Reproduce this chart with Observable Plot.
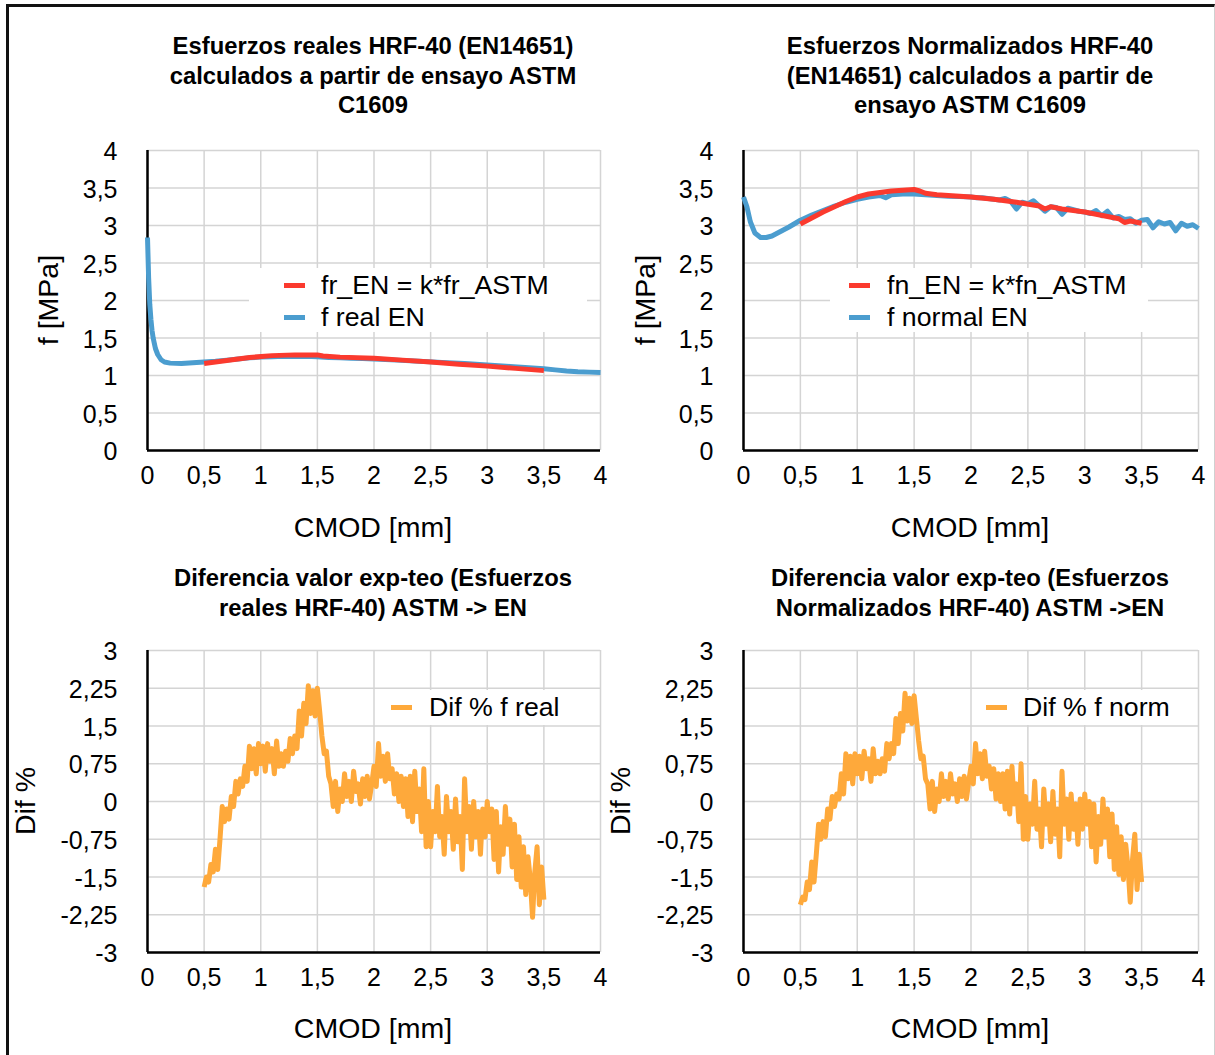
<!DOCTYPE html>
<html><head><meta charset="utf-8">
<script src="https://cdn.jsdelivr.net/npm/d3@7"></script>
<script src="https://cdn.jsdelivr.net/npm/@observablehq/plot@0.6"></script>
<style>
body{margin:0;background:#fff;font-family:"Liberation Sans",Arial,sans-serif;color:#000;}
#root{position:relative;width:1215px;height:1055px;overflow:hidden;background:#fff;}
.frame{position:absolute;left:6px;top:4px;width:1205px;height:1100px;border-left:3px solid #111;border-top:3px solid #111;border-right:1px solid #d0d0d0;}
.title{position:absolute;font-weight:bold;font-size:23.8px;line-height:29.5px;text-align:center;white-space:nowrap;transform:translateX(-50%);}
.axt{position:absolute;font-size:28.5px;white-space:nowrap;transform:translate(-50%,-50%);}
.axty{position:absolute;font-size:28.5px;white-space:nowrap;transform:translate(-50%,-50%) rotate(-90deg);}
.lbox{position:absolute;background:#fff;z-index:5;}
.sw{position:absolute;height:5px;width:21px;z-index:6;}
.lt{position:absolute;font-size:26.7px;white-space:nowrap;z-index:6;transform:translateY(-50%);line-height:30px;}
svg{z-index:1;}
</style></head>
<body><div id="root"><div class="frame"></div></div>
<script>
// ---------- data ----------
const xTicks = [0, 0.5, 1, 1.5, 2, 2.5, 3, 3.5, 4];
const fTicks = [0, 0.5, 1, 1.5, 2, 2.5, 3, 3.5, 4];
const difTicks = [-3, -2.25, -1.5, -0.75, 0, 0.75, 1.5, 2.25, 3];

const titles = [
  "Esfuerzos reales HRF-40 (EN14651)<br>calculados a partir de ensayo ASTM<br>C1609",
  "Esfuerzos Normalizados HRF-40<br>(EN14651) calculados a partir de<br>ensayo ASTM C1609",
  "Diferencia valor exp-teo (Esfuerzos<br>reales HRF-40) ASTM -> EN",
  "Diferencia valor exp-teo (Esfuerzos<br>Normalizados HRF-40) ASTM ->EN"
];
const xLabel = "CMOD [mm]";
const fLabel = "f [MPa]";
const difLabel = "Dif %";

const colRed = "#fb3a2e", colBlue = "#4b9dcf", colOrange = "#fea93b";

// panel 1 : f real EN (blue) and fr_EN = k*fr_ASTM (red)
const realBlueX = [0, 0.01, 0.02, 0.03, 0.04, 0.05, 0.07, 0.09, 0.12, 0.15, 0.2, 0.3, 0.4, 0.5, 0.6, 0.7, 0.8, 0.9, 1.0, 1.1, 1.2, 1.3, 1.4, 1.5, 1.6, 1.7, 1.8, 1.9, 2.0, 2.2, 2.4, 2.6, 2.8, 3.0, 3.2, 3.4, 3.5, 3.6, 3.7, 3.8, 3.9, 4.0];
const realBlueY = [2.84, 2.3, 1.95, 1.75, 1.6, 1.5, 1.36, 1.28, 1.21, 1.18, 1.165, 1.16, 1.17, 1.18, 1.19, 1.205, 1.22, 1.235, 1.245, 1.25, 1.255, 1.255, 1.255, 1.25, 1.24, 1.235, 1.23, 1.225, 1.22, 1.205, 1.19, 1.175, 1.16, 1.14, 1.12, 1.1, 1.09, 1.075, 1.06, 1.05, 1.045, 1.04];
const realRedX = [0.5, 0.7, 0.9, 1.1, 1.3, 1.5, 1.55, 1.7, 2.0, 2.25, 2.5, 2.75, 3.0, 3.25, 3.5];
const realRedY = [1.16, 1.2, 1.24, 1.265, 1.275, 1.275, 1.26, 1.245, 1.23, 1.205, 1.18, 1.15, 1.125, 1.095, 1.065];

// panel 2 : f normal EN (blue) and fn_EN = k*fn_ASTM (red)
const normBlueX = [0, 0.03, 0.06, 0.1, 0.15, 0.2, 0.25, 0.3, 0.4, 0.5, 0.6, 0.7, 0.8, 0.9, 1.0, 1.1, 1.2, 1.25, 1.3, 1.4, 1.5, 1.6, 1.7, 1.8, 1.9, 2.0, 2.05, 2.1, 2.15, 2.2, 2.25, 2.3, 2.35, 2.4, 2.45, 2.5, 2.55, 2.6, 2.65, 2.7, 2.75, 2.8, 2.85, 2.9, 2.95, 3.0, 3.05, 3.1, 3.15, 3.2, 3.25, 3.3, 3.35, 3.4, 3.45, 3.5, 3.55, 3.6, 3.65, 3.7, 3.75, 3.8, 3.85, 3.9, 3.95, 4.0];
const normBlueY = [3.38, 3.25, 3.05, 2.9, 2.84, 2.84, 2.86, 2.9, 2.98, 3.07, 3.14, 3.2, 3.26, 3.31, 3.35, 3.38, 3.4, 3.37, 3.41, 3.42, 3.42, 3.41, 3.4, 3.39, 3.385, 3.38, 3.37, 3.37, 3.36, 3.35, 3.34, 3.36, 3.32, 3.22, 3.31, 3.29, 3.33, 3.26, 3.19, 3.25, 3.24, 3.15, 3.23, 3.21, 3.19, 3.18, 3.16, 3.2, 3.13, 3.19, 3.1, 3.12, 3.08, 3.09, 3.03, 3.07, 3.08, 2.97, 3.05, 3.02, 3.04, 2.93, 3.03, 2.99, 3.01, 2.96];
const normRedX = [0.5, 0.6, 0.7, 0.8, 0.9, 1.0, 1.1, 1.2, 1.3, 1.4, 1.5, 1.55, 1.6, 1.7, 1.8, 2.0, 2.2, 2.4, 2.6, 2.65, 2.7, 2.8, 3.0, 3.2, 3.3, 3.35, 3.4, 3.5];
const normRedY = [3.02, 3.1, 3.18, 3.25, 3.32, 3.38, 3.42, 3.44, 3.46, 3.47, 3.48, 3.46, 3.43, 3.41, 3.4, 3.38, 3.35, 3.31, 3.26, 3.22, 3.25, 3.22, 3.18, 3.12, 3.09, 3.04, 3.06, 3.03];

// panels 3 & 4 : differences
const difCmod = [0.5, 0.52, 0.54, 0.56, 0.58, 0.6, 0.62, 0.64, 0.66, 0.68,
  0.7, 0.72, 0.74, 0.76, 0.78, 0.8, 0.82, 0.84, 0.86, 0.88,
  0.9, 0.92, 0.94, 0.96, 0.98, 1.0, 1.02, 1.04, 1.06, 1.08,
  1.1, 1.12, 1.14, 1.16, 1.18, 1.2, 1.22, 1.24, 1.26, 1.28,
  1.3, 1.32, 1.34, 1.36, 1.38, 1.4, 1.42, 1.44, 1.46, 1.48,
  1.5, 1.52, 1.54, 1.56, 1.58, 1.6, 1.62, 1.64, 1.66, 1.68,
  1.7, 1.72, 1.74, 1.76, 1.78, 1.8, 1.82, 1.84, 1.86, 1.88,
  1.9, 1.92, 1.94, 1.96, 1.98, 2.0, 2.02, 2.04, 2.06, 2.08,
  2.1, 2.12, 2.14, 2.16, 2.18, 2.2, 2.22, 2.24, 2.26, 2.28,
  2.3, 2.32, 2.34, 2.36, 2.38, 2.4, 2.42, 2.44, 2.46, 2.48,
  2.5, 2.52, 2.54, 2.56, 2.58, 2.6, 2.62, 2.64, 2.66, 2.68,
  2.7, 2.72, 2.74, 2.76, 2.78, 2.8, 2.82, 2.84, 2.86, 2.88,
  2.9, 2.92, 2.94, 2.96, 2.98, 3.0, 3.02, 3.04, 3.06, 3.08,
  3.1, 3.12, 3.14, 3.16, 3.18, 3.2, 3.22, 3.24, 3.26, 3.28,
  3.3, 3.32, 3.34, 3.36, 3.38, 3.4, 3.42, 3.44, 3.46, 3.48, 3.5];
const difReal = [-1.7, -1.5, -1.6, -1.25, -1.4, -0.95, -1.35, -0.75, -0.1, -0.4,
  -0.15, -0.35, 0.1, -0.1, 0.4, 0.15, 0.45, 0.3, 0.7, 0.4,
  1.1, 0.65, 1.05, 0.55, 1.15, 0.75, 1.1, 0.6, 1.15, 0.8,
  1.05, 0.55, 1.2, 0.7, 0.95, 0.7, 1.0, 0.8, 1.25, 0.95,
  1.3, 1.05, 1.8, 1.3, 1.95, 1.55, 2.3, 1.75, 2.2, 1.7,
  2.25, 1.8, 1.3, 0.95, 1.0, 0.5, 0.35, -0.1, 0.4, -0.2,
  0.25, 0.0, 0.55, 0.1, 0.4, 0.0, 0.6, 0.2, 0.35, -0.05,
  0.45, 0.1, 0.5, 0.05, 0.35, 0.7, 0.3, 1.15, 0.5, 0.9,
  0.4, 0.95, 0.45, 0.65, 0.15, 0.55, 0.0, 0.5, -0.1, 0.45,
  -0.3, 0.5, -0.4, 0.6, -0.2, 0.25, -0.6, 0.65, -0.9, 0.0,
  -0.9, -0.2, -0.6, 0.3, -0.7, -0.3, -1.05, 0.1, -0.6, -0.2,
  -0.95, 0.05, -0.8, -0.3, -1.35, 0.45, -0.6, -0.1, -0.95, 0.0,
  -0.7, -0.2, -1.05, -0.15, -0.7, 0.0, -0.6, -0.15, -1.15, -0.2,
  -1.4, -0.5, -1.05, -0.1, -0.85, -0.35, -1.3, -0.45, -1.55, -0.7,
  -1.7, -0.9, -1.85, -1.1, -1.55, -2.3, -1.4, -0.9, -2.05, -1.3, -1.95];
const difNorm = [-2.05, -1.9, -1.95, -1.6, -1.75, -1.2, -1.6, -1.05, -0.45, -0.75,
  -0.4, -0.7, -0.15, -0.35, 0.1, -0.1, 0.15, 0.05, 0.55, 0.15,
  0.95, 0.45, 0.9, 0.35, 0.95, 0.55, 0.9, 0.45, 1.0, 0.65,
  0.85, 0.4, 1.05, 0.55, 0.8, 0.55, 0.85, 0.6, 1.15, 0.85,
  1.15, 0.95, 1.65, 1.15, 1.75, 1.4, 2.15, 1.6, 2.05, 1.55,
  2.1, 1.65, 1.2, 0.85, 0.9, 0.45, 0.35, -0.15, 0.4, -0.2,
  0.25, 0.0, 0.55, 0.1, 0.4, 0.05, 0.55, 0.15, 0.35, 0.0,
  0.45, 0.1, 0.5, 0.05, 0.4, 0.7, 0.35, 1.15, 0.55, 0.95,
  0.45, 1.0, 0.5, 0.7, 0.25, 0.65, 0.05, 0.55, 0.0, 0.55,
  -0.15, 0.6, -0.25, 0.7, -0.05, 0.35, -0.4, 0.75, -0.75, 0.1,
  -0.75, -0.05, -0.45, 0.4, -0.55, -0.15, -0.9, 0.25, -0.45, -0.05,
  -0.8, 0.2, -0.65, -0.15, -1.1, 0.6, -0.45, 0.05, -0.75, 0.15,
  -0.55, -0.05, -0.85, 0.05, -0.55, 0.15, -0.45, 0.0, -0.9, -0.05,
  -1.2, -0.3, -0.85, 0.05, -0.7, -0.15, -1.1, -0.25, -1.35, -0.5,
  -1.45, -0.7, -1.55, -0.85, -1.3, -2.0, -1.15, -0.65, -1.75, -1.05, -1.6];

const legends = [
  ["fr_EN = k*fr_ASTM", "f real EN"],
  ["fn_EN = k*fn_ASTM", "f normal EN"],
  ["Dif % f real"],
  ["Dif % f norm"]
];

// ---------- helpers ----------
const root = document.getElementById("root");
const pts = (xs, ys) => xs.map((x, i) => ({x, y: ys[i]}));
const fmt = d => String(d).replace(".", ",");
const FONT = '"Liberation Sans", Arial, sans-serif';

function add(el) { root.appendChild(el); return el; }
function div(cls, css, html) {
  const d = document.createElement("div");
  d.className = cls;
  Object.assign(d.style, css);
  if (html != null) d.innerHTML = html;
  return add(d);
}

function panel({left, top, width, height, ml, mr, mt, mb, yDomain, yTicks, series}) {
  const lineMarks = series.map(s => Plot.line(pts(s.x, s.y), {x: "x", y: "y", stroke: s.color, strokeWidth: s.w || 5, strokeLinejoin: "round", strokeLinecap: "butt"}));
  const p = Plot.plot({
    width, height, marginLeft: ml, marginRight: mr, marginTop: mt, marginBottom: mb,
    x: {domain: [0, 4]},
    y: {domain: yDomain},
    style: {fontFamily: FONT, fontSize: "25px", color: "#000", background: "transparent", overflow: "visible"},
    marks: [
      Plot.gridX(xTicks, {stroke: "#d4d4d4", strokeOpacity: 1, strokeWidth: 1.5}),
      Plot.gridY(yTicks, {stroke: "#d4d4d4", strokeOpacity: 1, strokeWidth: 1.5}),
      Plot.axisX(xTicks, {tickSize: 0, tickPadding: 16, tickFormat: fmt, label: null, fontSize: 25}),
      Plot.axisY(yTicks, {tickSize: 0, tickPadding: 30, tickFormat: fmt, label: null, fontSize: 25, dy: 1.5}),
      Plot.ruleX([0], {stroke: "#000", strokeWidth: 2.5}),
      Plot.ruleY([yDomain[0]], {stroke: "#000", strokeWidth: 2.5}),
      ...lineMarks
    ]
  });
  Object.assign(p.style, {position: "absolute", left: left + "px", top: top + "px"});
  add(p);
}

function legend(box, swX, txtX, rows, items, colors) {
  div("lbox", {left: box[0] + "px", top: box[1] + "px", width: (box[2] - box[0]) + "px", height: (box[3] - box[1]) + "px"});
  items.forEach((t, i) => {
    div("sw", {left: swX + "px", top: (rows[i] - 2.5) + "px", background: colors[i]});
    div("lt", {left: txtX + "px", top: rows[i] + "px"}, t);
  });
}

// ---------- panels ----------
panel({left: 0, top: 140, width: 607, height: 360, ml: 147, mr: 7, mt: 10, mb: 50, yDomain: [0, 4], yTicks: fTicks,
  series: [{x: realBlueX, y: realBlueY, color: colBlue}, {x: realRedX, y: realRedY, color: colRed}]});
panel({left: 607, top: 140, width: 608, height: 360, ml: 136, mr: 17, mt: 10, mb: 50, yDomain: [0, 4], yTicks: fTicks,
  series: [{x: normBlueX, y: normBlueY, color: colBlue}, {x: normRedX, y: normRedY, color: colRed}]});
panel({left: 0, top: 640, width: 607, height: 360, ml: 147, mr: 7, mt: 10, mb: 48, yDomain: [-3, 3], yTicks: difTicks,
  series: [{x: difCmod, y: difReal, color: colOrange, w: 5}]});
panel({left: 607, top: 640, width: 608, height: 360, ml: 136, mr: 17, mt: 10, mb: 48, yDomain: [-3, 3], yTicks: difTicks,
  series: [{x: difCmod, y: difNorm, color: colOrange, w: 5}]});

// ---------- titles ----------
div("title", {left: "373px", top: "31px"}, titles[0]);
div("title", {left: "970px", top: "31px"}, titles[1]);
div("title", {left: "373px", top: "563px"}, titles[2]);
div("title", {left: "970px", top: "563px"}, titles[3]);

// ---------- axis titles ----------
div("axt", {left: "373px", top: "527px"}, xLabel);
div("axt", {left: "970px", top: "527px"}, xLabel);
div("axt", {left: "373px", top: "1028px"}, xLabel);
div("axt", {left: "970px", top: "1028px"}, xLabel);
div("axty", {left: "48px", top: "300px"}, fLabel);
div("axty", {left: "645px", top: "300px"}, fLabel);
div("axty", {left: "25px", top: "801px"}, difLabel);
div("axty", {left: "620px", top: "801px"}, difLabel);

// ---------- legends ----------
legend([249, 268, 587, 332], 284, 321, [285, 317], legends[0], [colRed, colBlue]);
legend([830, 268, 1148, 332], 849, 887, [285, 317], legends[1], [colRed, colBlue]);
legend([383, 690, 565, 725], 391, 429, [707], legends[2], [colOrange]);
legend([978, 690, 1180, 725], 986, 1023, [707], legends[3], [colOrange]);
</script>
</body></html>
